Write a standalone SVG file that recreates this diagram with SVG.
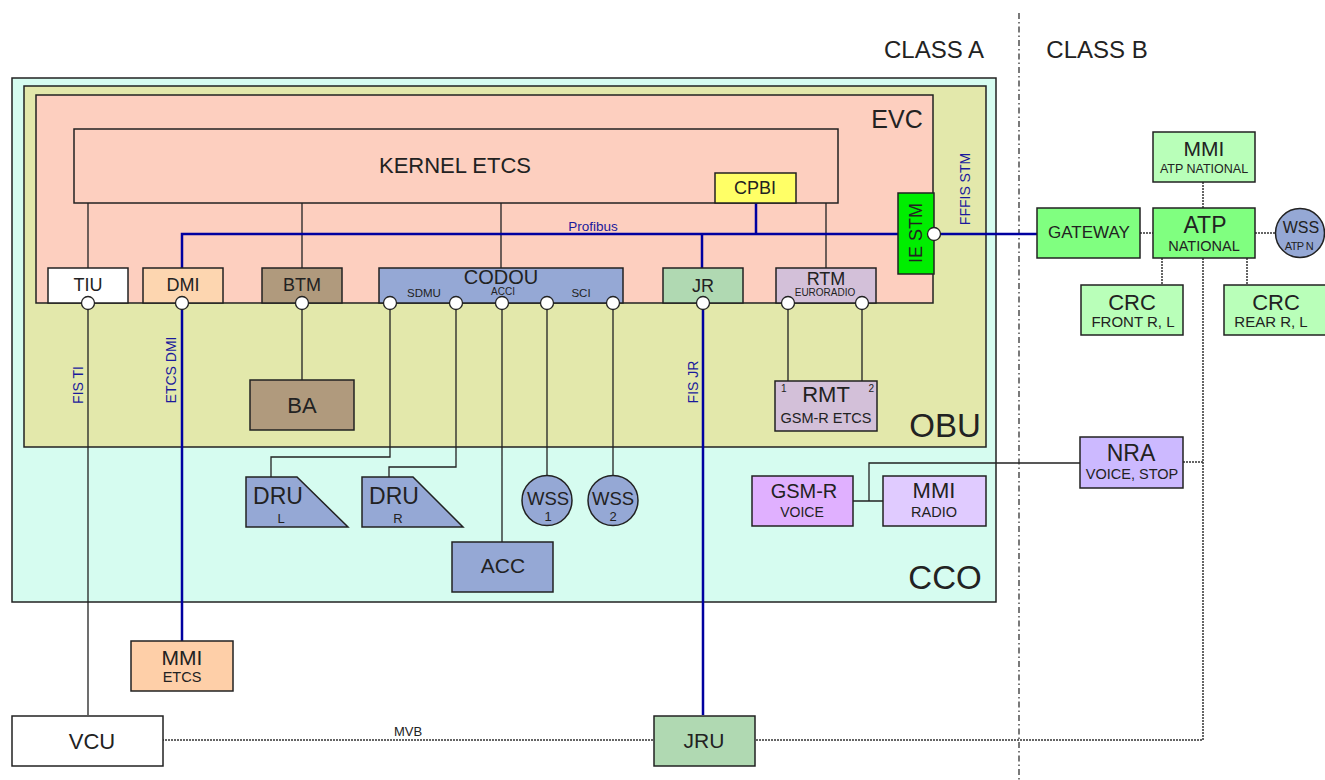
<svg xmlns="http://www.w3.org/2000/svg" width="1325" height="780" viewBox="0 0 1325 780">
<style>
text{font-family:"Liberation Sans",Arial,sans-serif;fill:#222;text-anchor:middle}
.box{stroke:#222;stroke-width:1.5}
.ln{fill:none;stroke:#222;stroke-width:1.3}
.bus{fill:none;stroke:#0000a0;stroke-width:2.5}
.dot{fill:none;stroke:#333;stroke-width:1.5;stroke-dasharray:2 1}
.port{fill:#fff;stroke:#222;stroke-width:1.3}
.blue{fill:#1a1a9c}
</style>
<rect width="1325" height="780" fill="#fff"/>
<line x1="1019" y1="13" x2="1019" y2="780" stroke="#333" stroke-width="1.3" stroke-dasharray="6 3 1.5 3"/>
<text x="934" y="58" font-size="24">CLASS A</text>
<text x="1097" y="58" font-size="24">CLASS B</text>

<g id="CCO"><rect class="box" x="12" y="78" width="984" height="524" fill="#d6fcf0" stroke-width="1.8"/><text x="945" y="589" font-size="33">CCO</text></g>
<g id="OBU"><rect class="box" x="24" y="86" width="962" height="361" fill="#e3e8ab"/><text x="945" y="437" font-size="33">OBU</text></g>
<g id="EVC"><rect class="box" x="36" y="95" width="897" height="208" fill="#fdcfbf"/><text x="897" y="128" font-size="25">EVC</text></g>
<g id="KERNEL"><rect class="box" x="74" y="129" width="764" height="74" fill="#fdcfbf"/><text x="455" y="173" font-size="22">KERNEL ETCS</text></g>

<g id="connectors">
<path class="ln" d="M88 203V268M302 203V268M501 203V268M826 203V268"/>
<path class="ln" d="M88 303V715M302 303V380M390 303V457H271V477M456 303V467H389V477M502 303V542M547 303V476M613 303V476M788 303V381M862 303V381"/>
<path class="ln" d="M853 501H883M869 501V463H1080"/>
<path class="bus" d="M182 268V234H898M756 203V234M934 234H1037M182 303V641"/>
<path class="bus" stroke-width="3" d="M702 234V268M703 303V715"/>
<path class="dot" d="M1140 233H1153M1255 233H1276M1203 182V208M1162 258V285M1247 258V285M1203 258V740H755M1183 462H1203M162 740H654"/>
<text x="593" y="231" font-size="13.5" class="blue">Profibus</text>
<text x="408" y="736" font-size="13">MVB</text>
<text transform="translate(969.5 189) rotate(-90)" font-size="14" class="blue">FFFIS STM</text>
<text transform="translate(83 385) rotate(-90)" font-size="14" class="blue">FIS TI</text>
<text transform="translate(176 370) rotate(-90)" font-size="14" class="blue">ETCS DMI</text>
<text transform="translate(697.5 382) rotate(-90)" font-size="14" class="blue">FIS JR</text>
</g>

<g id="CPBI"><rect class="box" x="715" y="173" width="81" height="30" fill="#ffff66"/><text x="755" y="194" font-size="18">CPBI</text></g>
<g id="TIU"><rect class="box" x="48" y="268" width="80" height="35" fill="#fff"/><text x="88" y="291" font-size="18">TIU</text></g>
<g id="DMI"><rect class="box" x="143" y="268" width="80" height="35" fill="#fdd6b0"/><text x="183" y="291" font-size="18">DMI</text></g>
<g id="BTM"><rect class="box" x="262" y="268" width="80" height="35" fill="#b09a7d"/><text x="302" y="291" font-size="18">BTM</text></g>
<g id="CODOU"><rect class="box" x="379" y="268" width="244" height="35" fill="#95a8d5"/><text x="501" y="284" font-size="20">CODOU</text>
<text x="424" y="297" font-size="11.5">SDMU</text><text x="503" y="295" font-size="10">ACCI</text><text x="581" y="297" font-size="11.5">SCI</text></g>
<g id="JR"><rect class="box" x="663" y="268" width="80" height="35" fill="#b0d9b2"/><text x="703" y="292" font-size="18">JR</text></g>
<g id="RTM"><rect class="box" x="776" y="268" width="100" height="35" fill="#d3c0d9"/><text x="826" y="285" font-size="18">RTM</text><text x="825" y="296" font-size="10">EURORADIO</text></g>
<g id="IESTM"><rect class="box" x="898" y="193" width="36" height="81" fill="#00ee00"/><text transform="translate(922 233) rotate(-90)" font-size="18">IE STM</text></g>

<g id="ports">
<circle class="port" cx="88" cy="303" r="6.5"/><circle class="port" cx="182" cy="303" r="6.5"/><circle class="port" cx="302" cy="303" r="6.5"/>
<circle class="port" cx="390" cy="303" r="6.5"/><circle class="port" cx="456" cy="303" r="6.5"/><circle class="port" cx="502" cy="303" r="6.5"/>
<circle class="port" cx="547" cy="303" r="6.5"/><circle class="port" cx="613" cy="303" r="6.5"/><circle class="port" cx="703" cy="303" r="6.5"/>
<circle class="port" cx="788" cy="303" r="6.5"/><circle class="port" cx="862" cy="303" r="6.5"/><circle class="port" cx="934" cy="234" r="6.5"/>
</g>

<g id="BA"><rect class="box" x="250" y="380" width="104" height="50" fill="#b09a7d"/><text x="302" y="413" font-size="22">BA</text></g>
<g id="RMT"><rect class="box" x="775" y="381" width="102" height="50" fill="#d3c0d9"/><text x="826" y="402" font-size="22">RMT</text><text x="826" y="423" font-size="14.5">GSM-R ETCS</text>
<text x="781" y="392" font-size="10" style="text-anchor:start">1</text><text x="874" y="392" font-size="10" style="text-anchor:end">2</text></g>
<g id="DRUL"><polygon class="box" points="246,477 297,477 348,527 246,527" fill="#95a8d5"/><text x="278" y="504" font-size="23">DRU</text><text x="281" y="523" font-size="13">L</text></g>
<g id="DRUR"><polygon class="box" points="362,477 413,477 463,527 362,527" fill="#95a8d5"/><text x="394" y="504" font-size="23">DRU</text><text x="398" y="523" font-size="13">R</text></g>
<g id="WSS1"><circle class="box" cx="547" cy="500.5" r="25" fill="#95a8d5"/><text x="548" y="505" font-size="18.5">WSS</text><text x="548" y="521" font-size="13">1</text></g>
<g id="WSS2"><circle class="box" cx="613" cy="500.5" r="25" fill="#95a8d5"/><text x="613" y="505" font-size="18.5">WSS</text><text x="613" y="521" font-size="13">2</text></g>
<g id="ACC"><rect class="box" x="452" y="542" width="101" height="50" fill="#95a8d5"/><text x="503" y="573" font-size="21">ACC</text></g>
<g id="GSMR"><rect class="box" x="752" y="476" width="101" height="50" fill="#e0b0ff"/><text x="804" y="498" font-size="20">GSM-R</text><text x="802" y="517" font-size="14">VOICE</text></g>
<g id="MMIRADIO"><rect class="box" x="883" y="476" width="103" height="50" fill="#e0cbff"/><text x="934" y="498" font-size="22">MMI</text><text x="934" y="517" font-size="14.5">RADIO</text></g>
<g id="NRA"><rect class="box" x="1080" y="437" width="103" height="51" fill="#ccb9ff"/><text x="1131" y="461" font-size="23">NRA</text><text x="1132" y="479" font-size="14.5">VOICE, STOP</text></g>

<g id="GATEWAY"><rect class="box" x="1037" y="208" width="103" height="50" fill="#80ff80"/><text x="1089" y="238" font-size="17">GATEWAY</text></g>
<g id="ATP"><rect class="box" x="1153" y="208" width="102" height="50" fill="#80ff80"/><text x="1205" y="233" font-size="23">ATP</text><text x="1204" y="251" font-size="14.5">NATIONAL</text></g>
<g id="MMIATP"><rect class="box" x="1153" y="132" width="102" height="50" fill="#b9ffb9"/><text x="1204" y="156" font-size="21">MMI</text><text x="1204" y="173" font-size="12.5">ATP NATIONAL</text></g>
<g id="WSSATP"><circle class="box" cx="1300" cy="233" r="24.5" fill="#95a8d5"/><text x="1301" y="233" font-size="16">WSS</text><text x="1299" y="250" font-size="11" letter-spacing="-0.6">ATP N</text></g>
<g id="CRCF"><rect class="box" x="1081" y="285" width="102" height="50" fill="#b9ffb9"/><text x="1132" y="310" font-size="22">CRC</text><text x="1133" y="327" font-size="15">FRONT R, L</text></g>
<g id="CRCR"><rect class="box" x="1224" y="285" width="105" height="50" fill="#b9ffb9"/><text x="1276" y="310" font-size="22">CRC</text><text x="1271" y="327" font-size="15">REAR R, L</text></g>

<g id="MMIETCS"><rect class="box" x="131" y="641" width="102" height="50" fill="#fecfa8"/><text x="182" y="665" font-size="21">MMI</text><text x="182" y="682" font-size="14.5">ETCS</text></g>
<g id="VCU"><rect class="box" x="12" y="716" width="151" height="50" fill="#fff"/><text x="92" y="749" font-size="22">VCU</text></g>
<g id="JRU"><rect class="box" x="654" y="716" width="101" height="50" fill="#b0d9b2"/><text x="704" y="748" font-size="21">JRU</text></g>
</svg>
